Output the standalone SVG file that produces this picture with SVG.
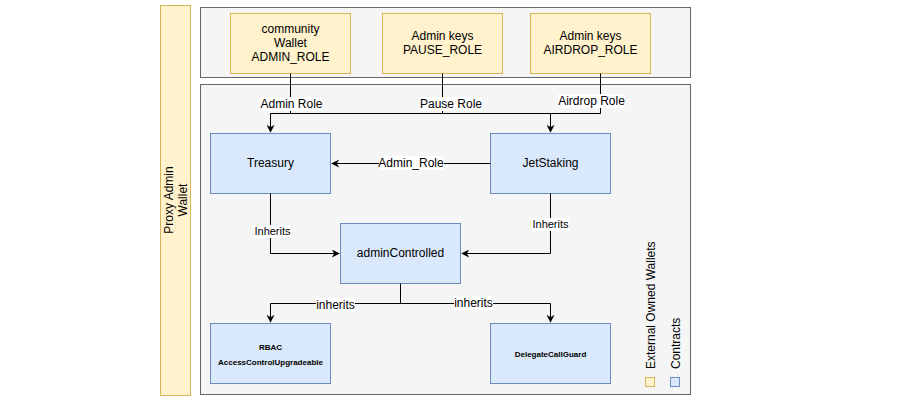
<svg xmlns="http://www.w3.org/2000/svg" width="911" height="401" viewBox="0 0 911 401">
<defs>
<style>
.wal{fill:#fff2cc;stroke:#d6b656;stroke-width:1}
.con{fill:#dae8fc;stroke:#6c8ebf;stroke-width:1}
.grp{fill:#f5f5f5;stroke:#666666;stroke-width:1}
text{font-family:"Liberation Sans",Arial,sans-serif;fill:#000;text-anchor:middle}
.t12{font-size:12px}
.t11{font-size:11px}
.t8{font-size:8px;font-weight:bold}
.edge{fill:none;stroke:#000;stroke-width:1}
.lbl{fill:#fff}
</style>
<marker id="arr" viewBox="0 0 10 10" refX="9" refY="5" markerWidth="8" markerHeight="8" markerUnits="userSpaceOnUse" orient="auto">
<path d="M0,0 L10,5 L0,10 L3,5 Z" fill="#000"/>
</marker>
</defs>
<rect width="911" height="401" fill="#fff"/>
<g id="proxyAdmin">
<rect class="wal" x="160.5" y="5.5" width="30" height="390"/>
<text class="t12" transform="translate(175,200) rotate(-90)"><tspan x="0" y="-2">Proxy Admin</tspan><tspan x="0" y="12">Wallet</tspan></text>
</g>
<g id="walletsGroup"><rect class="grp" x="200.5" y="7.5" width="490" height="70"/></g>
<g id="contractsGroup"><rect class="grp" x="200.5" y="84.5" width="490" height="310"/></g>
<g id="communityWallet">
<rect class="wal" x="230.5" y="13.5" width="120" height="60"/>
<text class="t12"><tspan x="290.5" y="33">community</tspan><tspan x="290.5" y="47">Wallet</tspan><tspan x="290.5" y="61">ADMIN_ROLE</tspan></text>
</g>
<g id="pauseKeys">
<rect class="wal" x="382.5" y="13.5" width="120" height="60"/>
<text class="t12"><tspan x="442.5" y="40">Admin keys</tspan><tspan x="442.5" y="54">PAUSE_ROLE</tspan></text>
</g>
<g id="airdropKeys">
<rect class="wal" x="530.5" y="13.5" width="120" height="60"/>
<text class="t12"><tspan x="590.5" y="40">Admin keys</tspan><tspan x="590.5" y="54">AIRDROP_ROLE</tspan></text>
</g>
<g id="treasury">
<rect class="con" x="210.5" y="133.5" width="120" height="60"/>
<text class="t12" x="270.5" y="167">Treasury</text>
</g>
<g id="jetStaking">
<rect class="con" x="490.5" y="133.5" width="120" height="60"/>
<text class="t12" x="550.5" y="167">JetStaking</text>
</g>
<g id="adminControlled">
<rect class="con" x="340.5" y="223.5" width="120" height="60"/>
<text class="t12" x="400.5" y="257">adminControlled</text>
</g>
<g id="rbac">
<rect class="con" x="210.5" y="323.5" width="120" height="60"/>
<text class="t8"><tspan x="270.5" y="350">RBAC</tspan><tspan x="270.5" y="365">AccessControlUpgradeable</tspan></text>
</g>
<g id="delegateCallGuard">
<rect class="con" x="490.5" y="323.5" width="120" height="60"/>
<text class="t8" x="550.5" y="357">DelegateCallGuard</text>
</g>
<g id="legend">
<rect class="wal" x="645.5" y="377.5" width="9" height="9"/>
<rect class="con" x="670.5" y="377.5" width="9" height="9"/>
<text class="t12" style="text-anchor:start" transform="translate(655,369) rotate(-90)">External Owned Wallets</text>
<text class="t12" style="text-anchor:start" transform="translate(680,369) rotate(-90)">Contracts</text>
</g>
<g id="connectors">
<path class="edge" d="M290.5,73.5 V113.5 H270.5 V132" marker-end="url(#arr)"/>
<path class="edge" d="M270.5,113.5 H600.5"/>
<path class="edge" d="M442.5,73.5 V113.5"/>
<path class="edge" d="M600.5,73.5 V113.5 H550.5 V132" marker-end="url(#arr)"/>
<path class="edge" d="M490.5,163.5 H332" marker-end="url(#arr)"/>
<path class="edge" d="M270.5,193.5 V253.5 H339" marker-end="url(#arr)"/>
<path class="edge" d="M550.5,193.5 V253.5 H462" marker-end="url(#arr)"/>
<path class="edge" d="M400.5,283.5 V303.5 H270.5 V322" marker-end="url(#arr)"/>
<path class="edge" d="M400.5,303.5 H550.5 V322" marker-end="url(#arr)"/>
<rect class="lbl" x="261" y="97" width="61" height="14"/>
<text class="t12" x="291.5" y="108">Admin Role</text>
<rect class="lbl" x="421" y="97" width="61" height="14"/>
<text class="t12" x="451" y="108">Pause Role</text>
<rect class="lbl" x="558" y="94" width="67" height="14"/>
<text class="t12" x="591.5" y="105">Airdrop Role</text>
<rect class="lbl" x="379" y="156" width="65" height="14"/>
<text class="t12" x="411" y="167">Admin_Role</text>
<rect class="lbl" x="254" y="225" width="37" height="13"/>
<text class="t11" x="272.5" y="235">Inherits</text>
<rect class="lbl" x="532" y="218" width="37" height="13"/>
<text class="t11" x="550.5" y="228">Inherits</text>
<rect class="lbl" x="316" y="298" width="39" height="14"/>
<text class="t12" x="335.5" y="309">inherits</text>
<rect class="lbl" x="454" y="296" width="39" height="14"/>
<text class="t12" x="473.5" y="307">inherits</text>
</g>
</svg>
